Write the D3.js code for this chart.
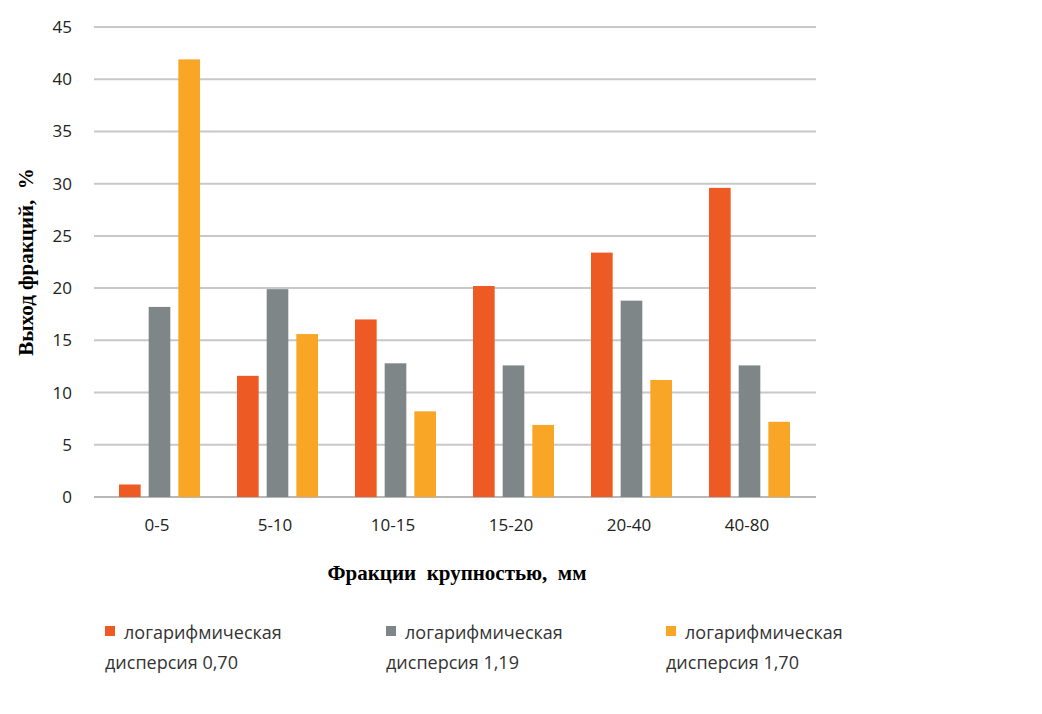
<!DOCTYPE html><html><head><meta charset="utf-8"><script src="https://cdn.jsdelivr.net/npm/d3@7"></script>
<style>body{margin:0;background:#fff}</style></head><body><svg id="c" width="1042" height="714"></svg>
<script>
const categories=["0-5","5-10","10-15","15-20","20-40","40-80"];
const s070=[1.2,11.6,17.0,20.2,23.4,29.6];
const s119=[18.2,19.9,12.8,12.6,18.8,12.6];
const s170=[41.9,15.6,8.2,6.9,11.2,7.2];
const seriesNames=[["логарифмическая","дисперсия 0,70"],["логарифмическая","дисперсия 1,19"],["логарифмическая","дисперсия 1,70"]];
const yTicks=[0,5,10,15,20,25,30,35,40,45];
const colors=["#ee5a24","#7f8688","#f9a526"];
const series=[s070,s119,s170];
const svg=d3.select("#c");
const x=d3.scaleBand().domain(categories).range([98,806]);
const y=d3.scaleLinear().domain([0,45]).range([497,27]);
const sub=d3.scaleBand().domain([0,1,2]).range([-38,43]).paddingInner(0.27);
svg.append("g").selectAll("line").data(yTicks).join("line")
 .attr("x1",94).attr("x2",816).attr("y1",d=>y(d)).attr("y2",d=>y(d))
 .attr("stroke",d=>d===0?"#b8b8b8":"#c8c8c8").attr("stroke-width",2);
svg.append("g").selectAll("text").data(yTicks).join("text")
 .attr("x",72).attr("y",d=>y(d)+6).attr("text-anchor","end")
 .attr("font-family","Open Sans, sans-serif").attr("font-size",17).attr("fill","#222").text(d=>d);
series.forEach((s,i)=>{
 svg.append("g").selectAll("rect").data(s).join("rect")
  .attr("x",(d,j)=>x(categories[j])+x.bandwidth()/2+sub(i))
  .attr("width",sub.bandwidth()).attr("y",d=>y(d)).attr("height",d=>y(0)-y(d)).attr("fill",colors[i]);
});
svg.append("g").selectAll("text").data(categories).join("text")
 .attr("x",d=>x(d)+x.bandwidth()/2).attr("y",531).attr("text-anchor","middle")
 .attr("font-family","Open Sans, sans-serif").attr("font-size",17).attr("fill","#222").text(d=>d);
svg.append("text").attr("x",457).attr("y",580).attr("text-anchor","middle")
 .attr("font-family","Liberation Serif, serif").attr("font-weight","bold").attr("font-size",21)
 .attr("xml:space","preserve").text("Фракции  крупностью,  мм");
svg.append("text").attr("transform","translate(33,262) rotate(-90)").attr("text-anchor","middle")
 .attr("font-family","Liberation Serif, serif").attr("font-weight","bold").attr("font-size",21)
 .attr("xml:space","preserve").text("Выход фракций,  %");
const lx=[105,386,666];
seriesNames.forEach((n,i)=>{
 svg.append("rect").attr("x",lx[i]).attr("y",626).attr("width",10).attr("height",10).attr("fill",colors[i]);
 svg.append("text").attr("x",lx[i]+19).attr("y",639).attr("font-family","Open Sans, sans-serif").attr("font-size",18).attr("fill","#333").text(n[0]);
 svg.append("text").attr("x",lx[i]).attr("y",669).attr("font-family","Open Sans, sans-serif").attr("font-size",18).attr("fill","#333").text(n[1]);
});
</script></body></html>
